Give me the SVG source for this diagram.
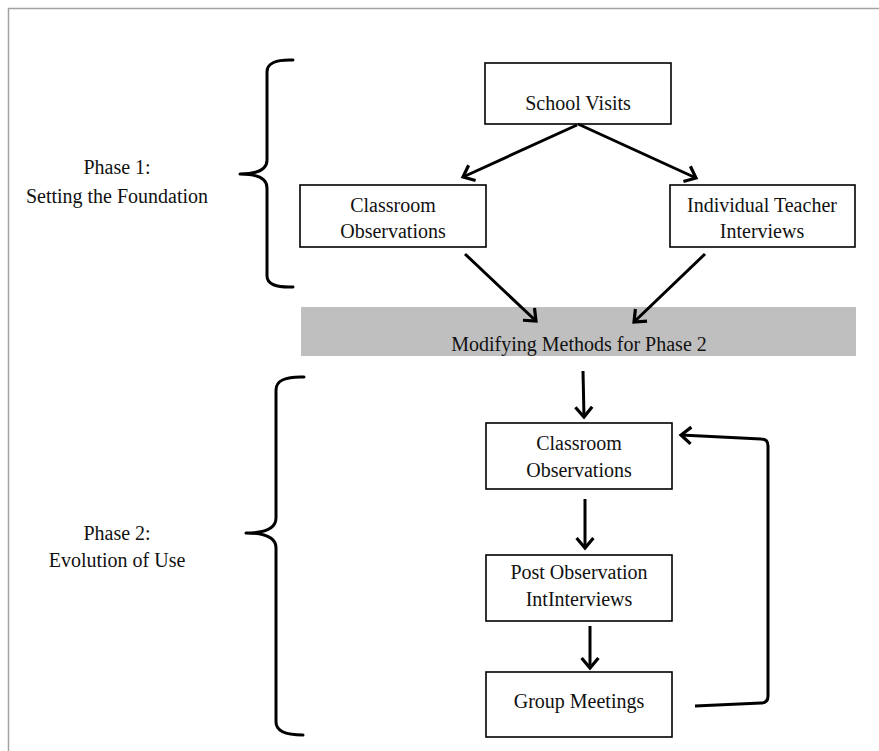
<svg xmlns="http://www.w3.org/2000/svg" width="879" height="751" viewBox="0 0 879 751">
<defs>
<style>
.frame{fill:none;stroke:#a3a3a3;stroke-width:1.5}
.box{fill:#fff;stroke:#000;stroke-width:1.6}
.band{fill:#bfbfbf;stroke:none}
.t{font-family:"Liberation Serif","Times New Roman",serif;font-size:20px;fill:#111;text-anchor:middle}
.arr{fill:none;stroke:#000;stroke-width:3;marker-end:url(#ah)}
.brace{fill:none;stroke:#000;stroke-width:3;stroke-linecap:round;stroke-linejoin:round}
</style>
<marker id="ah" viewBox="-2 -11 15 22" refX="10" refY="0" markerWidth="15" markerHeight="22" markerUnits="userSpaceOnUse" orient="auto">
<path d="M0,-8.4 L10,0 L0,8.4" fill="none" stroke="#000" stroke-width="3.2" stroke-linejoin="miter"/>
</marker>
</defs>
<rect width="879" height="751" fill="#fff"/>
<path class="frame" d="M8.5,751 L8.5,8.5 L879,8.5"/>

<g id="phase1-label">
<path class="brace" d="M293,60 Q267,59 267,72 L267,160 Q267,174 240,174 Q267,174 267,188 L267,276 Q267,288 293,287"/>
<text class="t" x="117" y="174">Phase 1:</text>
<text class="t" x="117" y="203">Setting the Foundation</text>
</g>

<g id="phase2-label">
<path class="brace" d="M304,377 Q276,376 276,390 L276,518 Q276,533 246,533 Q276,533 276,548 L276,722 Q276,735 303,735"/>
<text class="t" x="117" y="540">Phase 2:</text>
<text class="t" x="117" y="567">Evolution of Use</text>
</g>

<g id="school-visits">
<rect class="box" x="485" y="63" width="186" height="61"/>
<text class="t" x="578" y="110">School Visits</text>
</g>

<g id="classroom-obs-1">
<rect class="box" x="300" y="185" width="186" height="62"/>
<text class="t" x="393" y="212">Classroom</text>
<text class="t" x="393" y="238">Observations</text>
</g>

<g id="teacher-interviews">
<rect class="box" x="670" y="185" width="185" height="62"/>
<text class="t" x="762" y="212">Individual Teacher</text>
<text class="t" x="762" y="238">Interviews</text>
</g>

<g id="modifying-methods">
<rect class="band" x="301" y="307" width="555" height="49"/>
<text class="t" x="579" y="351">Modifying Methods for Phase 2</text>
</g>

<g id="classroom-obs-2">
<rect class="box" x="486" y="423" width="186" height="66"/>
<text class="t" x="579" y="450">Classroom</text>
<text class="t" x="579" y="477">Observations</text>
</g>

<g id="post-observation">
<rect class="box" x="486" y="555" width="186" height="66"/>
<text class="t" x="579" y="579">Post Observation</text>
<text class="t" x="579" y="606">IntInterviews</text>
</g>

<g id="group-meetings">
<rect class="box" x="486" y="672" width="186" height="65"/>
<text class="t" x="579" y="708">Group Meetings</text>
</g>

<g id="connectors">
<line class="arr" x1="577" y1="125" x2="463" y2="177"/>
<line class="arr" x1="578" y1="124" x2="696" y2="178"/>
<line class="arr" x1="465" y1="254" x2="536" y2="321"/>
<line class="arr" x1="705" y1="254" x2="634" y2="322"/>
<line class="arr" x1="583" y1="371" x2="584" y2="417"/>
<line class="arr" x1="585" y1="499" x2="585" y2="548"/>
<line class="arr" x1="590" y1="626" x2="590" y2="668"/>
<path class="arr" d="M695,706 L761,703 Q768,703 768,696 L768,446 Q768,439 761,439 L681,435"/>
</g>
</svg>
